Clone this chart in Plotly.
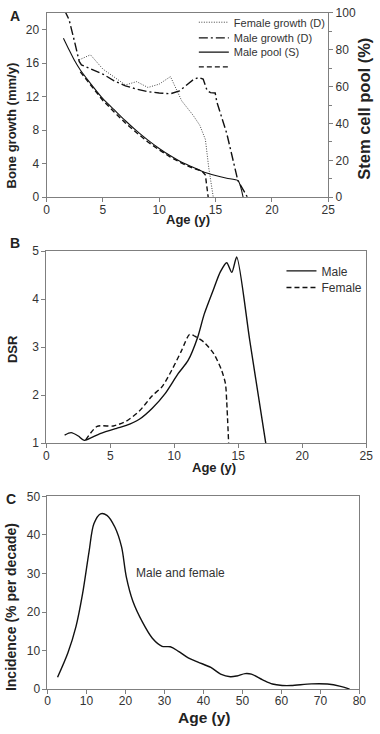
import plotly.graph_objects as go

# ---------- Panel A data ----------
fg_age = [2.9, 3.9, 5.0, 6.0, 7.0, 8.0, 9.0, 10.0, 11.0, 12.0, 13.0, 13.6, 14.1, 14.4, 14.8]
fg_val = [16.4, 17.0, 15.3, 14.3, 13.4, 13.8, 13.1, 13.5, 14.4, 11.5, 9.8, 8.6, 6.9, 3.5, 0.0]

mg_age = [1.6, 2.0, 2.5, 2.9, 3.1, 4.0, 5.0, 6.0, 7.0, 8.0, 9.0, 10.0, 11.0, 11.8, 12.5, 13.0,
          13.5, 13.9, 14.25, 14.55, 14.97, 15.11, 16.0, 16.98, 17.84]
mg_val = [22.3, 21.2, 18.5, 16.2, 15.8, 15.3, 14.7, 13.9, 13.3, 12.9, 12.6, 12.45, 12.35, 12.7,
          13.5, 14.0, 14.3, 14.1, 12.75, 12.48, 12.45, 11.4, 7.6, 2.0, 0.0]

mp_age = [1.5, 2.0, 2.5, 3.0, 4.0, 5.0, 6.0, 7.0, 8.0, 9.0, 10.0, 11.0, 12.0, 13.0, 14.0, 15.0,
          16.0, 17.0, 17.45]
mp_val = [86.3, 80.0, 74.0, 69.0, 61.0, 53.5, 47.5, 41.5, 36.0, 31.0, 26.5, 22.5, 19.0, 16.3,
          13.6, 11.8, 10.3, 9.0, 0.0]

fp_age = [3.0, 4.0, 5.0, 6.0, 7.0, 8.0, 9.0, 10.0, 11.0, 12.0, 13.0, 13.8, 14.1, 14.35]
fp_val = [68.0, 60.0, 52.5, 46.3, 40.3, 35.0, 30.0, 25.7, 21.8, 18.5, 15.8, 14.2, 12.0, 0.0]

# ---------- Panel B data ----------
dsr_m_age = [1.43, 1.94, 2.5, 2.96, 4.2, 5.49, 6.25, 7.27, 8.28, 9.3, 10.3, 11.07, 11.83, 12.34,
             13.1, 13.6, 14.1, 14.5, 14.88, 15.9, 17.15]
dsr_m_val = [1.17, 1.22, 1.15, 1.06, 1.2, 1.31, 1.37, 1.5, 1.73, 2.04, 2.45, 2.72, 3.21, 3.69,
             4.23, 4.57, 4.76, 4.56, 4.88, 3.14, 1.0]

dsr_f_age = [3.08, 3.97, 5.24, 6.25, 7.27, 8.28, 9.05, 9.8, 10.57, 11.2, 11.6, 12.34, 13.1,
             13.7, 14.0, 14.1, 14.25]
dsr_f_val = [1.07, 1.35, 1.36, 1.46, 1.67, 1.99, 2.18, 2.52, 2.93, 3.27, 3.23, 3.1, 2.86,
             2.52, 2.24, 1.86, 1.0]

# ---------- Panel C data ----------
inc_age = [2.58, 5.24, 7.3, 8.99, 10.66, 11.9, 13.6, 15.25, 17.3, 19.0, 20.2, 21.9, 24.4, 26.9,
           29.4, 31.5, 33.6, 36.1, 38.6, 41.9, 44.4, 46.9, 48.6, 50.7, 52.3, 55.2, 57.7, 60.2,
           62.5, 67.7, 71.8, 75.2, 77.5]
inc_val = [3.05, 9.4, 16.2, 24.7, 35.7, 42.9, 45.5, 45.1, 42.0, 36.9, 29.2, 22.8, 17.3, 13.2,
           11.1, 10.97, 9.8, 8.1, 7.0, 5.6, 3.9, 3.2, 3.4, 4.0, 3.86, 2.4, 1.3, 0.92,
           0.9, 1.34, 1.3, 0.7, 0.0]

x_ticks_a = [0, 5, 10, 15, 20, 25]
y_ticks_a = [0, 4, 8, 12, 16, 20]
y2_ticks_a = [0, 20, 40, 60, 80, 100]
y_ticks_b = [1, 2, 3, 4, 5]
x_ticks_c = [0, 10, 20, 30, 40, 50, 60, 70, 80]
y_ticks_c = [0, 10, 20, 30, 40, 50]

W, H = 380, 734
FONT = "Liberation Sans, Arial, sans-serif"
AX = "#7f7f7f"
TXT = "#333333"


def px(x):
    return x / W


def py(y):
    return 1 - y / H


fig = go.Figure()

# Panel A
fig.add_trace(go.Scatter(x=fg_age, y=fg_val, mode="lines", name="Female growth (D)",
                         line=dict(color="#444444", width=1, dash="1px,1.5px"),
                         xaxis="x", yaxis="y", legend="legend"))
fig.add_trace(go.Scatter(x=mg_age, y=mg_val, mode="lines", name="Male growth (D)",
                         line=dict(color="#111111", width=1.4, dash="9px,3px,2px,3px"),
                         xaxis="x", yaxis="y", legend="legend2"))
fig.add_trace(go.Scatter(x=mp_age, y=mp_val, mode="lines", name="Male pool (S)",
                         line=dict(color="#111111", width=1.1, shape="spline", smoothing=0.6),
                         xaxis="x", yaxis="y2", legend="legend3"))
fig.add_trace(go.Scatter(x=fp_age, y=fp_val, mode="lines", name="",
                         line=dict(color="#111111", width=1.4, dash="5px,3px"),
                         xaxis="x", yaxis="y2", legend="legend4"))

# Panel B
fig.add_trace(go.Scatter(x=dsr_m_age, y=dsr_m_val, mode="lines", name="Male",
                         line=dict(color="#111111", width=1.4, shape="spline", smoothing=0.7),
                         xaxis="x2", yaxis="y3", legend="legend5"))
fig.add_trace(go.Scatter(x=dsr_f_age, y=dsr_f_val, mode="lines", name="Female",
                         line=dict(color="#111111", width=1.4, dash="5px,3px", shape="spline",
                                   smoothing=0.7),
                         xaxis="x2", yaxis="y3", legend="legend6"))

# Panel C
fig.add_trace(go.Scatter(x=inc_age, y=inc_val, mode="lines", name="Male and female",
                         line=dict(color="#111111", width=1.4, shape="spline", smoothing=0.9),
                         xaxis="x3", yaxis="y4", showlegend=False))

tickfont = dict(family=FONT, size=12, color=TXT)
common = dict(showgrid=False, zeroline=False, showline=True, linecolor=AX, linewidth=1,
              ticks="outside", ticklen=4, tickcolor=AX, tickfont=tickfont)
xcommon = dict(common, ticklabelstandoff=-3)

fig.update_layout(
    width=W, height=H, margin=dict(l=0, r=0, t=0, b=0),
    paper_bgcolor="white", plot_bgcolor="white",
    xaxis=dict(domain=[px(44.7), px(334)], range=[0, 25], tickvals=x_ticks_a, anchor="y",
               mirror=True, **xcommon),
    yaxis=dict(domain=[py(194), py(6)], range=[0, 22], tickvals=y_ticks_a, anchor="x", **common),
    yaxis2=dict(range=[0, 100], tickvals=y2_ticks_a, overlaying="y", side="right", anchor="x",
                minor=dict(dtick=10, ticks="outside", ticklen=3, tickcolor=AX), **common),
    xaxis2=dict(domain=[px(44.5), px(373)], range=[0, 25], tickvals=x_ticks_a, anchor="y3",
                mirror=True, **xcommon),
    yaxis3=dict(domain=[py(444.7), py(249)], range=[1, 5], tickvals=y_ticks_b, anchor="x2",
                mirror=True, **common),
    xaxis3=dict(domain=[px(45.7), px(366)], range=[0, 80], tickvals=x_ticks_c, anchor="y4",
                mirror=True, **xcommon),
    yaxis4=dict(domain=[py(695.3), py(499)], range=[0, 50], tickvals=y_ticks_c, anchor="x3",
                mirror=True, **common),
    showlegend=True,
)

leg_a = dict(font=dict(family=FONT, size=11, color=TXT), bgcolor="rgba(0,0,0,0)",
             borderwidth=0, xanchor="left", yanchor="middle", itemwidth=30)
leg_b = dict(leg_a, font=dict(family=FONT, size=12, color=TXT))
fig.update_layout(
    legend=dict(x=px(196), y=py(15.5), **leg_a),
    legend2=dict(x=px(196), y=py(31.5), **leg_a),
    legend3=dict(x=px(196), y=py(46), **leg_a),
    legend4=dict(x=px(196), y=py(61), **leg_a),
    legend5=dict(x=px(286), y=py(269), **leg_b),
    legend6=dict(x=px(286), y=py(286), **leg_b),
)


def bold(size):
    return dict(family=FONT, size=size, color="#222222")


annos = [
    dict(text="<b>A</b>", x=px(12), y=py(9), font=bold(14)),
    dict(text="<b>B</b>", x=px(12), y=py(241), font=bold(14)),
    dict(text="<b>C</b>", x=px(8), y=py(502), font=bold(14)),
    dict(text="<b>Bone growth (mm/y)</b>", x=px(9), y=py(121), textangle=-90, font=bold(13)),
    dict(text="<b>Stem cell pool (%)</b>", x=px(370.5), y=py(104), textangle=-90,
         font=bold(16.5)),
    dict(text="<b>Age (y)</b>", x=px(190), y=py(217), font=bold(13)),
    dict(text="<b>DSR</b>", x=px(10), y=py(349), textangle=-90, font=bold(13)),
    dict(text="<b>Age (y)</b>", x=px(217), y=py(469), font=bold(13)),
    dict(text="<b>Incidence (% per decade)</b>", x=px(9), y=py(612), textangle=-90,
         font=bold(14)),
    dict(text="<b>Age (y)</b>", x=px(207), y=py(724), font=bold(15.5)),
]
for a in annos:
    fig.add_annotation(xref="paper", yref="paper", showarrow=False, xanchor="center",
                       yanchor="middle", **a)

fig.add_annotation(text="Male and female", x=34.2, y=30.2, xref="x3", yref="y4",
                   showarrow=False, font=dict(family=FONT, size=12, color=TXT))

fig.write_html("out.html", config={"displayModeBar": False},
               post_script="document.body.style.margin='0';document.body.style.overflow='hidden';")
